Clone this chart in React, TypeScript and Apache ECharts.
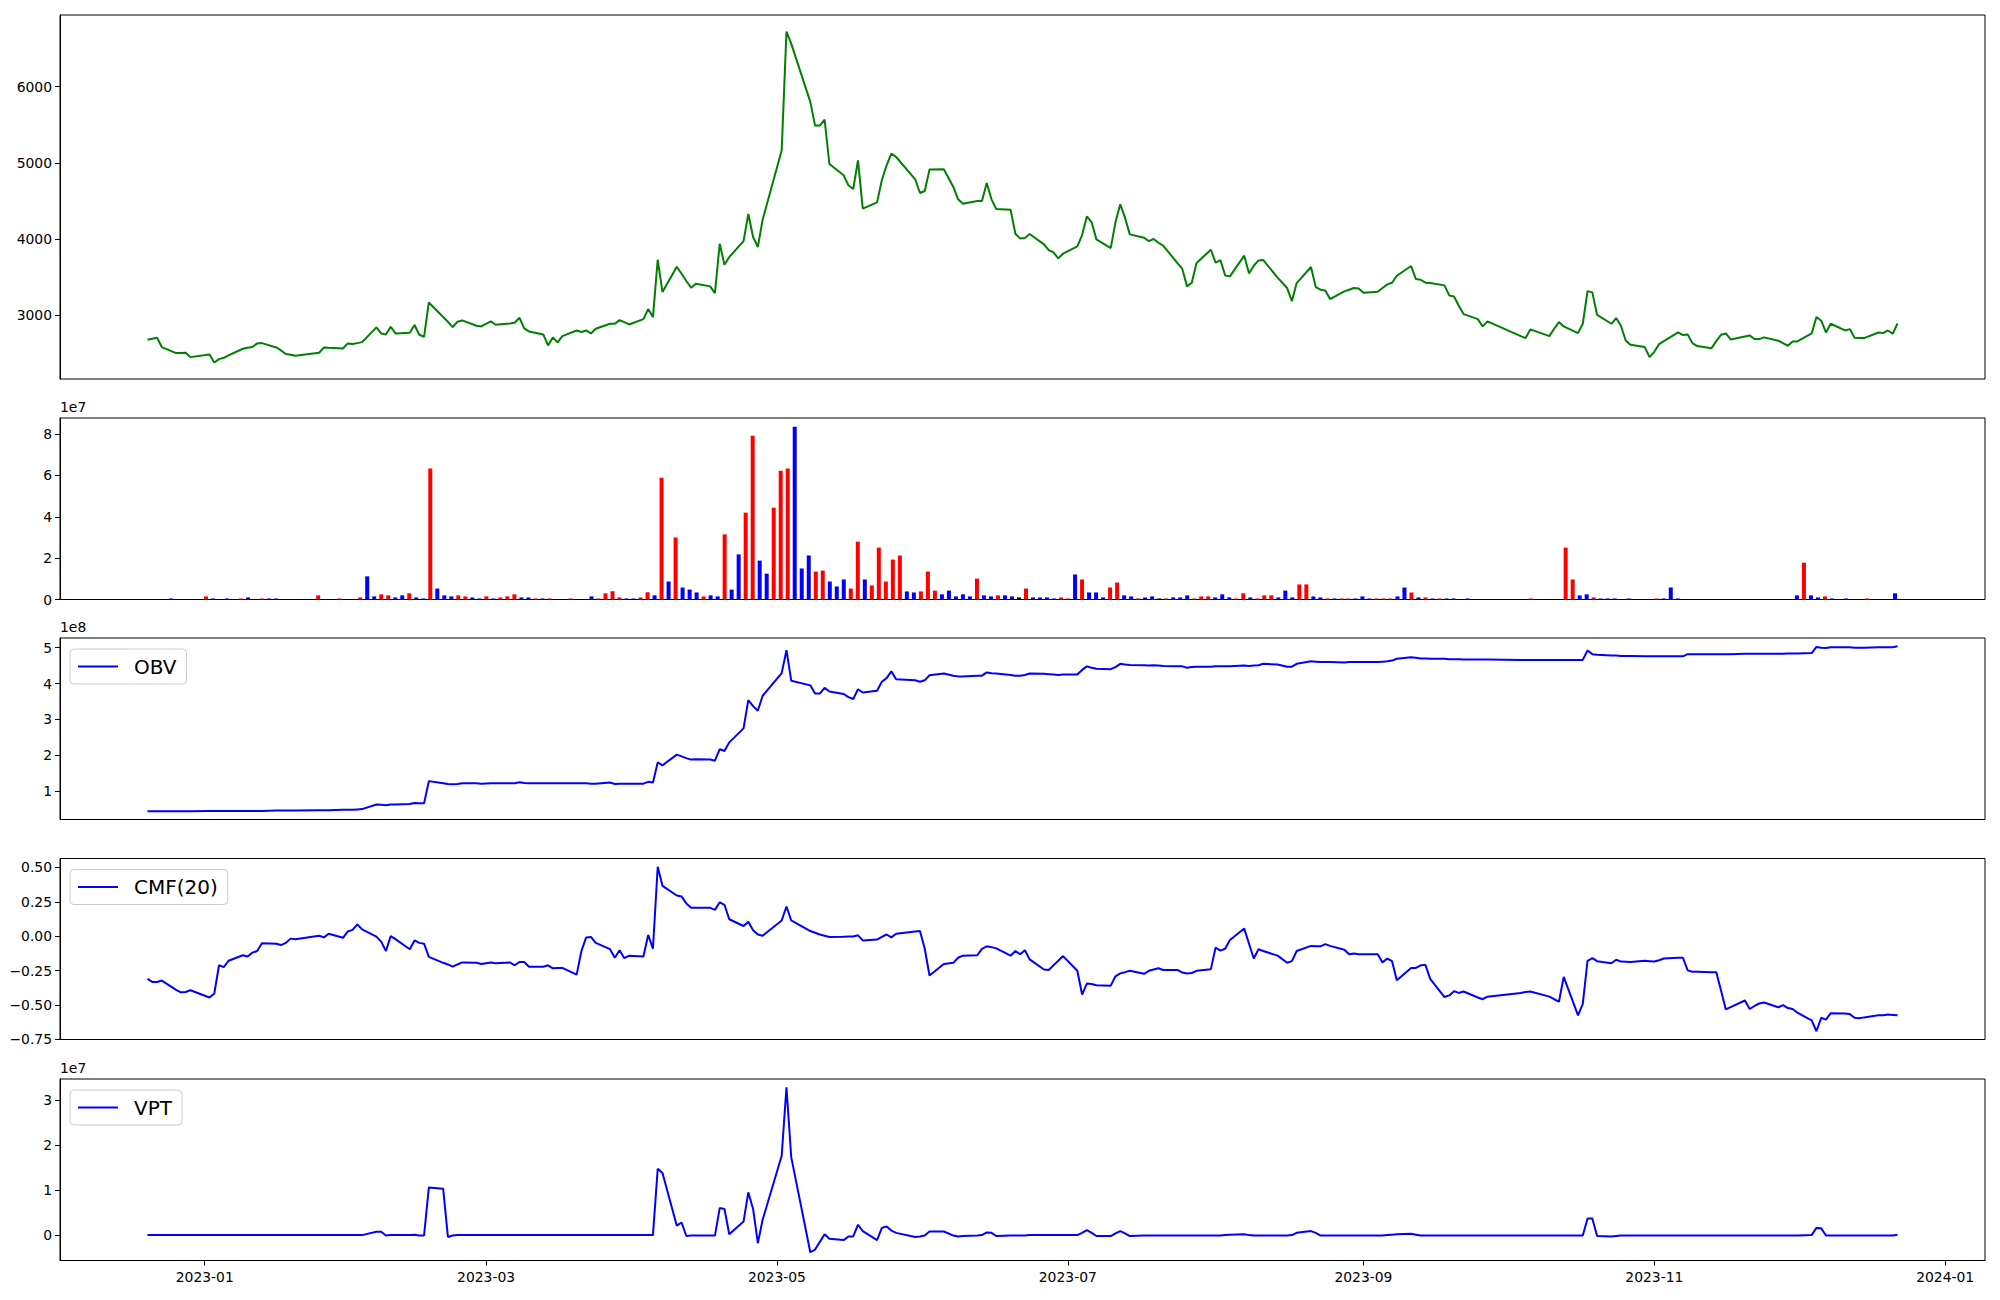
import React, { useEffect, useRef } from "react";
import * as echarts from "echarts";

// Trading days (KRX calendar) shown in the chart, month by month
const MONTH_DAYS: [string, number[]][] = [
  ["2022-12", [20, 21, 22, 23, 26, 27, 28, 29]],
  ["2023-01", [2, 3, 4, 5, 6, 9, 10, 11, 12, 13, 16, 17, 18, 19, 20, 25, 26, 27, 30, 31]],
  ["2023-02", [1, 2, 3, 6, 7, 8, 9, 10, 13, 14, 15, 16, 17, 20, 21, 22, 23, 24, 27, 28]],
  ["2023-03", [2, 3, 6, 7, 8, 9, 10, 13, 14, 15, 16, 17, 20, 21, 22, 23, 24, 27, 28, 29, 30, 31]],
  ["2023-04", [3, 4, 5, 6, 7, 10, 11, 12, 13, 14, 17, 18, 19, 20, 21, 24, 25, 26, 27, 28]],
  ["2023-05", [2, 3, 4, 8, 9, 10, 11, 12, 15, 16, 17, 18, 19, 22, 23, 24, 25, 26, 30, 31]],
  ["2023-06", [1, 2, 5, 7, 8, 9, 12, 13, 14, 15, 16, 19, 20, 21, 22, 23, 26, 27, 28, 29, 30]],
  ["2023-07", [3, 4, 5, 6, 7, 10, 11, 12, 13, 14, 17, 18, 19, 20, 21, 24, 25, 26, 27, 28, 31]],
  ["2023-08", [1, 2, 3, 4, 7, 8, 9, 10, 11, 14, 16, 17, 18, 21, 22, 23, 24, 25, 28, 29, 30, 31]],
  ["2023-09", [1, 4, 5, 6, 7, 8, 11, 12, 13, 14, 15, 18, 19, 20, 21, 22, 25, 26, 27]],
  ["2023-10", [4, 5, 6, 10, 11, 12, 13, 16, 17, 18, 19, 20, 23, 24, 25, 26, 27, 30, 31]],
  ["2023-11", [1, 2, 3, 6, 7, 8, 9, 10, 13, 14, 15, 16, 17, 20, 21, 22, 23, 24, 27, 28, 29, 30]],
  ["2023-12", [1, 4, 5, 6, 7, 8, 11, 12, 13, 14, 15, 18, 19, 20, 21, 22]],
];

const PRICE = [
  2676, 2689, 2702, 2580, 2501, 2503, 2505, 2448,
  2483, 2378, 2422, 2439, 2470, 2558, 2571, 2580, 2628, 2632, 2575, 2536, 2488, 2479, 2466, 2505, 2575, 2571, 2562, 2628,
  2619, 2632, 2645, 2838, 2759, 2746, 2847, 2759, 2768, 2869, 2742, 2715, 3166, 2974, 2912, 2842, 2912, 2930, 2860, 2851,
  2917, 2873, 2890, 2899, 2965, 2825, 2785, 2746, 2601, 2707, 2641, 2724, 2798, 2777, 2798, 2759, 2820, 2886, 2886, 2934, 2908, 2877,
  2947, 3079, 2974, 3727, 3302, 3635, 3543, 3447, 3359, 3412, 3377, 3289, 3937, 3661, 3762, 3972, 4327, 4025, 3894, 4253,
  5164, 6723, 6565, 5799, 5488, 5488, 5567, 4984, 4835, 4704, 4656, 5032, 4397, 4480, 4770, 4967, 5120, 5076, 4783, 4603,
  4629, 4910, 4914, 4682, 4520, 4463, 4498, 4498, 4734, 4520, 4393, 4384, 4069, 4007, 4012, 4064, 3929, 3854, 3823, 3745, 3806,
  3902, 4051, 4296, 4218, 3994, 3880, 4218, 4454, 4279, 4060, 4016, 3972, 3999, 3950, 3911, 3683, 3609, 3377, 3425, 3683, 3858,
  3688, 3723, 3521, 3508, 3780, 3548, 3648, 3718, 3723, 3491, 3355, 3184, 3420, 3631, 3368, 3333, 3324, 3210, 3311, 3333, 3355, 3350,
  3293, 3307, 3355, 3403, 3425, 3517, 3644, 3473, 3464, 3425, 3420, 3390, 3258, 3245, 3123, 3013, 2947, 2851, 2917,
  2724, 2698, 2812, 2724, 2820, 2908, 2851, 2763, 2886, 3315, 3298, 3004, 2886, 2961, 2860, 2667, 2610, 2580, 2448,
  2518, 2619, 2658, 2772, 2737, 2746, 2632, 2593, 2566, 2658, 2742, 2759, 2680, 2720, 2733, 2685, 2685, 2707, 2663, 2632, 2597, 2654,
  2654, 2759, 2974, 2926, 2772, 2886, 2798, 2816, 2702, 2698, 2698, 2772, 2763, 2798, 2755, 2890,
];

// Volume in units of 1e7, one per trading day (bar index)
const VOLUME_1E7 = [
  0, 0, 0, 0.05, 0, 0, 0, 0,
  0.15, 0.05, 0, 0.05, 0, 0.05, 0.1, 0, 0.05, 0.05, 0.05, 0, 0, 0, 0, 0, 0.2, 0, 0, 0.05,
  0, 0, 0.1, 1.12, 0.15, 0.25, 0.2, 0.1, 0.2, 0.3, 0.1, 0.05, 6.33, 0.53, 0.2, 0.15, 0.2, 0.15, 0.1, 0.05,
  0.15, 0.05, 0.1, 0.15, 0.25, 0.1, 0.1, 0.05, 0.05, 0.05, 0, 0, 0.05, 0, 0, 0.15, 0.05, 0.3, 0.4, 0.1, 0.05, 0.05,
  0.1, 0.35, 0.2, 5.89, 0.87, 3.0, 0.58, 0.48, 0.34, 0.15, 0.2, 0.15, 3.15, 0.48, 2.18, 4.2, 7.92, 1.88, 1.25, 4.44,
  6.23, 6.33, 8.36, 1.5, 2.13, 1.35, 1.4, 0.87, 0.63, 0.97, 0.53, 2.8, 0.97, 0.68, 2.51, 0.87, 1.93, 2.13, 0.39, 0.34,
  0.39, 1.35, 0.43, 0.25, 0.43, 0.15, 0.25, 0.15, 1.01, 0.2, 0.15, 0.2, 0.2, 0.15, 0.1, 0.53, 0.1, 0.1, 0.1, 0.05, 0.1,
  0.05, 1.21, 0.97, 0.34, 0.34, 0.1, 0.58, 0.82, 0.2, 0.15, 0.05, 0.1, 0.15, 0.05, 0.05, 0.1, 0.1, 0.2, 0.05, 0.15, 0.15,
  0.1, 0.25, 0.1, 0.05, 0.3, 0.1, 0.05, 0.2, 0.2, 0.1, 0.43, 0.1, 0.73, 0.73, 0.15, 0.1, 0.05, 0.05, 0.05, 0.05, 0.05, 0.15,
  0.05, 0.05, 0.05, 0.05, 0.15, 0.58, 0.34, 0.1, 0.1, 0.05, 0.05, 0.05, 0.05, 0, 0.05, 0, 0, 0, 0,
  0, 0, 0, 0, 0.05, 0, 0, 0, 0, 2.51, 0.97, 0.2, 0.25, 0.1, 0.05, 0.05, 0.05, 0, 0.05,
  0, 0, 0, 0.05, 0.05, 0.58, 0.05, 0, 0, 0, 0, 0, 0, 0, 0, 0, 0, 0, 0, 0, 0, 0,
  0, 0.2, 1.78, 0.2, 0.1, 0.15, 0.05, 0, 0.05, 0, 0, 0.05, 0, 0, 0, 0.3,
];

// bar colour per day: r = red, b = blue, k = black, . = no visible bar
const VOLUME_COLOR =
  "...b...." +
  "rb.b.rb.rbb.....r..r" +
  "..rbbrrbbrbbrbbbrrbb" +
  "rbrrrbbrbr..r..brrrrbb" +
  "rrbrbrbbbrbbrbbrrbbr" +
  "rrbbbrrbbbrrbrrrrrbb" +
  "rrrbbbbbrbbrbbkrbbbbr" +
  "rbrbbbrrbbrbbkrbbbrrr" +
  "bbbrrbrrrbbbrrbbrbrrbb" +
  "brrrbbrbrbrbb.b...." +
  "....r....rrbbrbbb.b" +
  "...rbbb..............." +
  ".brbbrb.b..r...b";

// On-balance volume in units of 1e8
const OBV_1E8 = [
  0.44, 0.44, 0.44, 0.44, 0.44, 0.44, 0.44, 0.44,
  0.45, 0.45, 0.45, 0.45, 0.45, 0.45, 0.45, 0.45, 0.45, 0.45, 0.46, 0.46, 0.46, 0.46, 0.46, 0.47, 0.47, 0.47, 0.48, 0.48,
  0.48, 0.49, 0.5, 0.63, 0.62, 0.61, 0.63, 0.63, 0.64, 0.67, 0.66, 0.66, 1.28, 1.22, 1.2, 1.19, 1.2, 1.22, 1.22, 1.21,
  1.22, 1.22, 1.22, 1.22, 1.25, 1.23, 1.22, 1.22, 1.22, 1.22, 1.22, 1.22, 1.22, 1.22, 1.22, 1.21, 1.21, 1.24, 1.2, 1.21, 1.21, 1.21,
  1.21, 1.26, 1.24, 1.8, 1.72, 2.02, 1.97, 1.92, 1.88, 1.89, 1.88, 1.85, 2.17, 2.12, 2.36, 2.75, 3.54, 3.37, 3.24, 3.66,
  4.29, 4.93, 4.08, 3.95, 3.72, 3.72, 3.88, 3.78, 3.71, 3.62, 3.57, 3.84, 3.75, 3.8, 4.05, 4.15, 4.34, 4.12, 4.09, 4.05,
  4.09, 4.23, 4.28, 4.22, 4.2, 4.2, 4.22, 4.22, 4.31, 4.29, 4.28, 4.24, 4.22, 4.22, 4.24, 4.28, 4.27, 4.26, 4.25, 4.24, 4.25,
  4.25, 4.38, 4.48, 4.44, 4.41, 4.4, 4.46, 4.55, 4.53, 4.52, 4.51, 4.5, 4.51, 4.5, 4.49, 4.48, 4.48, 4.44, 4.46, 4.47, 4.47,
  4.48, 4.48, 4.48, 4.48, 4.5, 4.49, 4.5, 4.51, 4.55, 4.53, 4.47, 4.47, 4.55, 4.62, 4.61, 4.6, 4.6, 4.6, 4.59, 4.6, 4.6, 4.6,
  4.6, 4.6, 4.61, 4.62, 4.64, 4.69, 4.73, 4.72, 4.7, 4.7, 4.69, 4.69, 4.68, 4.68, 4.68, 4.67, 4.67, 4.67, 4.67,
  4.66, 4.66, 4.66, 4.66, 4.66, 4.66, 4.66, 4.66, 4.66, 4.92, 4.82, 4.8, 4.78, 4.78, 4.77, 4.77, 4.77, 4.76, 4.76,
  4.76, 4.76, 4.76, 4.76, 4.76, 4.82, 4.82, 4.82, 4.82, 4.82, 4.82, 4.82, 4.82, 4.83, 4.83, 4.83, 4.83, 4.83, 4.83, 4.83, 4.84, 4.84,
  4.84, 4.85, 5.02, 5.0, 4.99, 5.01, 5.01, 5.01, 5.0, 5.0, 5.0, 5.01, 5.01, 5.01, 5.01, 5.04,
];

// Chaikin money flow (20)
const CMF_20 = [
  -0.311, -0.333, -0.333, -0.323, -0.391, -0.409, -0.406, -0.394,
  -0.446, -0.419, -0.212, -0.225, -0.179, -0.139, -0.148, -0.12, -0.108, -0.052, -0.055, -0.065, -0.049, -0.018, -0.022, 0.003, -0.009, 0.018, -0.012, 0.034,
  0.046, 0.086, 0.049, -0.003, -0.04, -0.108, 0.0, -0.022, -0.095, -0.031, -0.049, -0.055, -0.151, -0.194, -0.206, -0.222, -0.206, -0.191, -0.194, -0.203,
  -0.191, -0.197, -0.191, -0.212, -0.188, -0.188, -0.222, -0.222, -0.212, -0.234, -0.231, -0.231, -0.28, -0.108, -0.009, -0.006, -0.049, -0.095, -0.157, -0.102, -0.16, -0.142,
  -0.148, 0.009, -0.092, 0.505, 0.366, 0.296, 0.289, 0.237, 0.206, 0.206, 0.206, 0.191, 0.246, 0.228, 0.123, 0.074, 0.105, 0.043, 0.012, 0.003,
  0.114, 0.216, 0.114, 0.037, 0.025, 0.012, 0.003, -0.006, -0.005, -0.003, -0.003, 0.006, -0.031, -0.025, -0.006, 0.012, -0.009, 0.018, 0.034, 0.037,
  -0.092, -0.286, -0.203, -0.194, -0.157, -0.142, -0.139, -0.092, -0.074, -0.08, -0.089, -0.142, -0.108, -0.132, -0.102, -0.169, -0.243, -0.246, -0.212, -0.179, -0.145,
  -0.252, -0.425, -0.345, -0.348, -0.357, -0.36, -0.292, -0.271, -0.262, -0.252, -0.274, -0.252, -0.243, -0.234, -0.246, -0.246, -0.265, -0.271, -0.268, -0.252, -0.24,
  -0.083, -0.105, -0.092, -0.028, 0.055, -0.055, -0.163, -0.095, -0.108, -0.142, -0.194, -0.182, -0.108, -0.071, -0.074, -0.074, -0.058, -0.071, -0.099, -0.132, -0.126, -0.132,
  -0.132, -0.132, -0.191, -0.163, -0.182, -0.32, -0.231, -0.231, -0.212, -0.209, -0.311, -0.443, -0.431, -0.4, -0.413, -0.403, -0.446, -0.459, -0.44,
  -0.413, -0.406, -0.403, -0.44, -0.459, -0.477, -0.296, -0.576, -0.493, -0.179, -0.16, -0.182, -0.197, -0.172, -0.185, -0.186, -0.188, -0.179, -0.182,
  -0.185, -0.175, -0.163, -0.157, -0.157, -0.249, -0.259, -0.259, -0.262, -0.262, -0.397, -0.533, -0.517, -0.468, -0.53, -0.508, -0.49, -0.483, -0.517, -0.502, -0.523, -0.53,
  -0.557, -0.613, -0.692, -0.594, -0.607, -0.56, -0.563, -0.567, -0.594, -0.597, -0.591, -0.576, -0.576, -0.57, -0.573, -0.576,
];

// Volume price trend in units of 1e7
const VPT_1E7 = [
  0, 0, 0, 0, 0, 0, 0, 0,
  0, 0, 0, 0, 0, 0, 0, 0, 0, 0, 0, 0, 0, 0, 0, 0, 0, 0, 0, 0,
  0, 0, 0, 0.075, 0.075, -0.01, 0, 0, 0, 0.01, -0.01, -0.01, 1.057, 1.03, -0.04, -0.01, 0, 0, 0, 0,
  0, 0, 0, 0, 0, 0, 0, 0, 0, 0, 0, 0, 0, 0, 0, 0, 0, 0, 0, 0, 0, 0,
  0, 0, 0, 1.47, 1.38, 0.21, 0.28, -0.02, -0.01, -0.01, -0.01, -0.01, 0.6, 0.58, 0.02, 0.3, 0.95, 0.58, -0.18, 0.34,
  1.76, 3.28, 1.73, -0.38, -0.32, -0.15, 0.02, -0.08, -0.11, -0.03, -0.03, 0.23, 0.09, -0.11, 0.16, 0.19, 0.1, 0.05, -0.04, -0.03,
  -0.01, 0.08, 0.08, -0.01, -0.03, -0.02, -0.01, 0, 0.06, 0.05, -0.02, -0.01, -0.01, -0.01, -0.01, 0, 0, 0, 0, 0, 0,
  0, 0.05, 0.11, 0.05, -0.02, -0.02, 0.04, 0.09, 0.04, -0.02, -0.01, -0.01, -0.01, -0.01, -0.01, -0.01, -0.01, -0.01, -0.01, -0.01, -0.01,
  -0.01, -0.01, 0, 0.01, 0.02, 0, -0.01, -0.01, -0.01, -0.01, -0.01, 0, 0.05, 0.09, 0.05, -0.01, -0.01, -0.01, -0.01, -0.01, -0.01, -0.01,
  -0.01, -0.01, -0.01, 0, 0.01, 0.02, 0.03, 0.01, -0.01, -0.01, -0.01, -0.01, -0.01, -0.01, -0.01, -0.01, -0.01, -0.01, -0.01,
  -0.01, -0.01, -0.01, -0.01, -0.01, -0.01, -0.01, -0.01, -0.01, 0.37, 0.37, -0.02, -0.03, -0.02, -0.01, -0.01, -0.01, -0.01, -0.01,
  -0.01, -0.01, -0.01, -0.01, -0.01, -0.01, -0.01, -0.01, -0.01, -0.01, -0.01, -0.01, -0.01, -0.01, -0.01, -0.01, -0.01, -0.01, -0.01, -0.01, -0.01, -0.01,
  -0.01, 0, 0.16, 0.15, -0.01, -0.01, -0.01, -0.01, -0.01, -0.01, -0.01, -0.01, -0.01, -0.01, -0.01, 0.01,
];

const X_TICK_LABELS = ["2023-01", "2023-03", "2023-05", "2023-07", "2023-09", "2023-11", "2024-01"];
const PRICE_TICKS = [3000, 4000, 5000, 6000];
const VOLUME_TICKS = [0, 2, 4, 6, 8];
const OBV_TICKS = [1, 2, 3, 4, 5];
const CMF_TICKS = [-0.75, -0.5, -0.25, 0, 0.25, 0.5];
const VPT_TICKS = [0, 1, 2, 3];

const FONT = "DejaVu Sans";
const COLOR_MAP: Record<string, string> = { r: "#ff0000", b: "#0000ff", k: "#000000", ".": "#0000ff" };

function ts(s: string): number {
  const [y, m, d] = s.split("-").map(Number);
  return Date.UTC(y, m - 1, d || 1);
}

function padRange(vals: number[], frac = 0.05): [number, number] {
  const lo = Math.min(...vals);
  const hi = Math.max(...vals);
  const r = hi - lo;
  return [lo - frac * r, hi + frac * r];
}

export default function App() {
  const ref = useRef<HTMLDivElement>(null);

  useEffect(() => {
    if (!ref.current) return;
    const chart = echarts.init(ref.current, undefined, { renderer: "svg" });

    const dates = MONTH_DAYS.flatMap(([ym, days]) =>
      days.map((d) => `${ym}-${String(d).padStart(2, "0")}`)
    );
    const times = dates.map(ts);
    const span = times[times.length - 1] - times[0];
    const xMin = times[0] - 0.05 * span;
    const xMax = times[times.length - 1] + 0.05 * span;
    const n = dates.length;
    const barW = 0.7;
    const idxMin = -barW / 2 - 0.05 * (n - 1 + barW);
    const idxMax = n - 1 + barW / 2 + 0.05 * (n - 1 + barW);

    const grids = [
      { top: 15, height: 364 },
      { top: 418, height: 181.5 },
      { top: 638, height: 181.5 },
      { top: 858.5, height: 181 },
      { top: 1079, height: 181.5 },
    ];

    const labelStyle = { fontSize: 13.9, color: "#000", fontFamily: FONT };

    const hiddenX = (gridIndex: number, min: number, max: number) => ({
      type: "value",
      gridIndex,
      min,
      max,
      axisLine: { show: false, onZero: false },
      axisTick: { show: false },
      axisLabel: { show: false },
      splitLine: { show: false },
    });

    const monthTicks = X_TICK_LABELS.map((s) => ts(s + "-01"));

    const yAxisOf = (
      gridIndex: number,
      range: [number, number],
      ticks: number[],
      fmt: (v: number) => string,
      name?: string
    ) => ({
      type: "value",
      gridIndex,
      position: "left",
      min: range[0],
      max: range[1],
      name: name || "",
      nameLocation: "end",
      nameGap: 4,
      nameTextStyle: { ...labelStyle, align: "left", verticalAlign: "bottom", padding: [0, 0, 0, 0] },
      axisLine: { show: true, onZero: false, lineStyle: { color: "#000", width: 1 } },
      axisTick: { show: true, length: 5, customValues: ticks, lineStyle: { color: "#000", width: 1 } },
      axisLabel: { ...labelStyle, margin: 8, customValues: ticks, formatter: (v: number) => fmt(v) },
      splitLine: { show: false },
    });

    const minus = (s: string) => s.replace("-", "\u2212");

    const legendOf = (name: string, top: number) => ({
      data: [name],
      left: 70,
      top,
      orient: "horizontal",
      icon: "rect",
      itemWidth: 40,
      itemHeight: 2,
      selectedMode: false,
      padding: [6, 10, 6, 8],
      backgroundColor: "rgba(255,255,255,0.8)",
      borderColor: "#cccccc",
      borderWidth: 1,
      borderRadius: 4,
      textStyle: { fontSize: 20, fontFamily: FONT, color: "#000", padding: [0, 0, 0, 11], lineHeight: 23 },
    });

    const volData = VOLUME_1E7.map((v, i) => ({
      value: [i, v],
      itemStyle: { color: COLOR_MAP[VOLUME_COLOR[i]] || "#0000ff" },
    }));

    const option: any = {
      animation: false,
      backgroundColor: "#ffffff",
      textStyle: { fontFamily: FONT },
      grid: grids.map((g) => ({
        left: 60,
        width: 1925,
        top: g.top,
        height: g.height,
        show: true,
        borderColor: "#000",
        borderWidth: 1,
        backgroundColor: "transparent",
      })),
      legend: [
        legendOf("OBV", grids[2].top + 11),
        legendOf("CMF(20)", grids[3].top + 11),
        legendOf("VPT", grids[4].top + 11),
      ],
      xAxis: [
        hiddenX(0, xMin, xMax),
        hiddenX(1, idxMin, idxMax),
        hiddenX(2, xMin, xMax),
        hiddenX(3, xMin, xMax),
        {
          type: "value",
          gridIndex: 4,
          position: "bottom",
          min: xMin,
          max: xMax,
          axisLine: { show: true, onZero: false, lineStyle: { color: "#000", width: 1 } },
          axisTick: { show: true, length: 5, customValues: monthTicks, lineStyle: { color: "#000", width: 1 } },
          axisLabel: {
            ...labelStyle,
            margin: 9,
            customValues: monthTicks,
            formatter: (v: number) => {
              const d = new Date(v);
              return `${d.getUTCFullYear()}-${String(d.getUTCMonth() + 1).padStart(2, "0")}`;
            },
          },
          splitLine: { show: false },
        },
      ],
      yAxis: [
        yAxisOf(0, padRange(PRICE), PRICE_TICKS, (v) => String(v)),
        yAxisOf(1, [0, Math.max(...VOLUME_1E7) * 1.05], VOLUME_TICKS, (v) => String(v), "1e7"),
        yAxisOf(2, padRange(OBV_1E8), OBV_TICKS, (v) => String(v), "1e8"),
        yAxisOf(3, padRange(CMF_20), CMF_TICKS, (v) => minus(v.toFixed(2))),
        yAxisOf(4, padRange(VPT_1E7), VPT_TICKS, (v) => String(v), "1e7"),
      ],
      series: [
        {
          name: "Price",
          type: "line",
          xAxisIndex: 0,
          yAxisIndex: 0,
          symbol: "none",
          lineStyle: { color: "#008000", width: 2 },
          itemStyle: { color: "#008000" },
          data: PRICE.map((v, i) => [times[i], v]),
        },
        {
          name: "Volume",
          type: "bar",
          xAxisIndex: 1,
          yAxisIndex: 1,
          barWidth: 4,
          data: volData,
        },
        {
          name: "OBV",
          type: "line",
          xAxisIndex: 2,
          yAxisIndex: 2,
          symbol: "none",
          lineStyle: { color: "#0000ff", width: 2 },
          itemStyle: { color: "#0000ff" },
          data: OBV_1E8.map((v, i) => [times[i], v]),
        },
        {
          name: "CMF(20)",
          type: "line",
          xAxisIndex: 3,
          yAxisIndex: 3,
          symbol: "none",
          lineStyle: { color: "#0000ff", width: 2 },
          itemStyle: { color: "#0000ff" },
          data: CMF_20.map((v, i) => [times[i], v]),
        },
        {
          name: "VPT",
          type: "line",
          xAxisIndex: 4,
          yAxisIndex: 4,
          symbol: "none",
          lineStyle: { color: "#0000ff", width: 2 },
          itemStyle: { color: "#0000ff" },
          data: VPT_1E7.map((v, i) => [times[i], v]),
        },
      ],
    };

    chart.setOption(option);
    return () => chart.dispose();
  }, []);

  return (
    <div
      ref={ref}
      style={{ position: "absolute", left: 0, top: 0, width: 2000, height: 1300, background: "#fff" }}
    />
  );
}
